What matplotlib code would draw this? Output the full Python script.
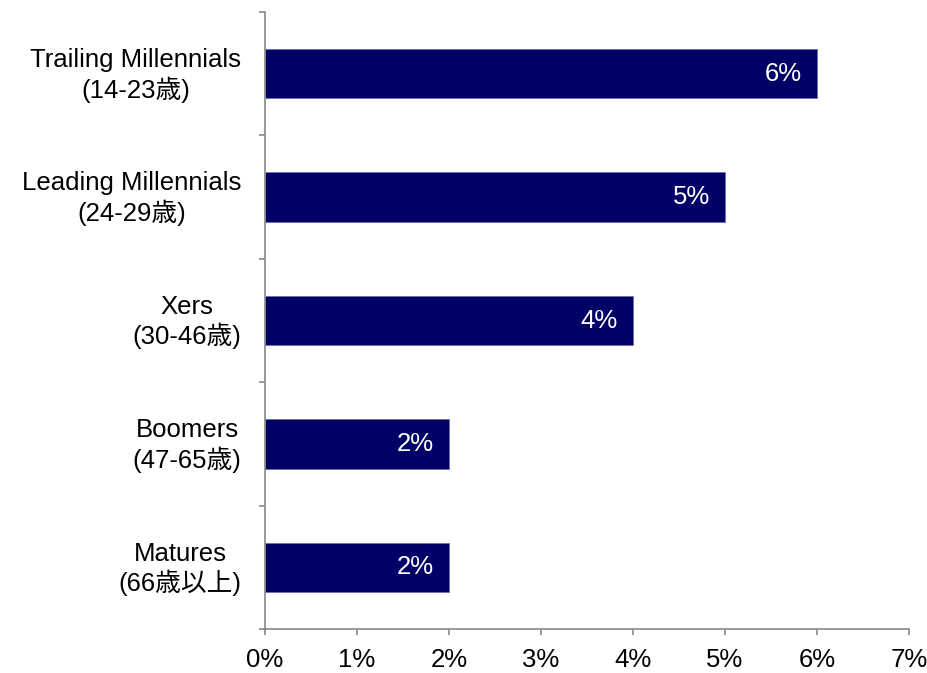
import matplotlib
matplotlib.use("Agg")
import matplotlib.pyplot as plt
from matplotlib.ticker import FixedLocator, FuncFormatter
from matplotlib.transforms import ScaledTranslation
import numpy as np

plt.rcParams['font.family'] = ['Liberation Sans', 'Noto Sans CJK JP', 'DejaVu Sans']

categories = [
    "Trailing Millennials\n(14-23歳)",
    "Leading Millennials\n(24-29歳)",
    "Xers\n(30-46歳)",
    "Boomers\n(47-65歳)",
    "Matures\n(66歳以上)",
]
values = [6, 5, 4, 2, 2]
value_labels = ["6%", "5%", "4%", "2%", "2%"]
x_ticks = [0, 1, 2, 3, 4, 5, 6, 7]

bar_color = "#000066"
axis_color = "#888888"
fs = 18.5

fig = plt.figure(figsize=(9.28, 6.73), dpi=100)
ax = fig.add_axes([265 / 928, 1 - 629 / 673, (909 - 265) / 928, (629 - 12) / 673])

n = len(categories)
y = np.arange(n)[::-1]
ax.barh(y, values, height=0.4, color=bar_color, edgecolor="#6f6fb0", linewidth=0.6, zorder=2)

for yi, v, lab in zip(y, values, value_labels):
    ax.annotate(lab, xy=(v, yi), xytext=(-11, 0), textcoords="offset points",
                ha="right", va="center", color="white", fontsize=fs)

ax.set_xlim(0, 7)
ax.set_ylim(-0.5, n - 0.5)

ax.xaxis.set_major_locator(FixedLocator(x_ticks))
ax.xaxis.set_major_formatter(FuncFormatter(lambda v, p: f"{int(v)}%"))
ax.tick_params(axis="x", direction="out", length=4.5, width=1.2, color=axis_color,
               labelsize=fs, pad=9)

ax.set_yticks(y)
ax.set_yticklabels(categories, fontsize=fs, multialignment="center", linespacing=1.2)
ax.tick_params(axis="y", which="major", length=0, pad=17)
ax.yaxis.set_minor_locator(FixedLocator(np.arange(-0.5, n, 1.0)))
ax.tick_params(axis="y", which="minor", direction="out", length=4.5, width=1.2, color=axis_color)

# nudge the two-line category labels up slightly so they sit centred on the bars
shift = ScaledTranslation(0, 3 / 100, fig.dpi_scale_trans)
for lbl in ax.get_yticklabels():
    lbl.set_transform(lbl.get_transform() + shift)

for side in ("top", "right"):
    ax.spines[side].set_visible(False)
for side in ("left", "bottom"):
    ax.spines[side].set_color(axis_color)
    ax.spines[side].set_linewidth(1.2)

fig.savefig("out.png", dpi=100, facecolor="white")
